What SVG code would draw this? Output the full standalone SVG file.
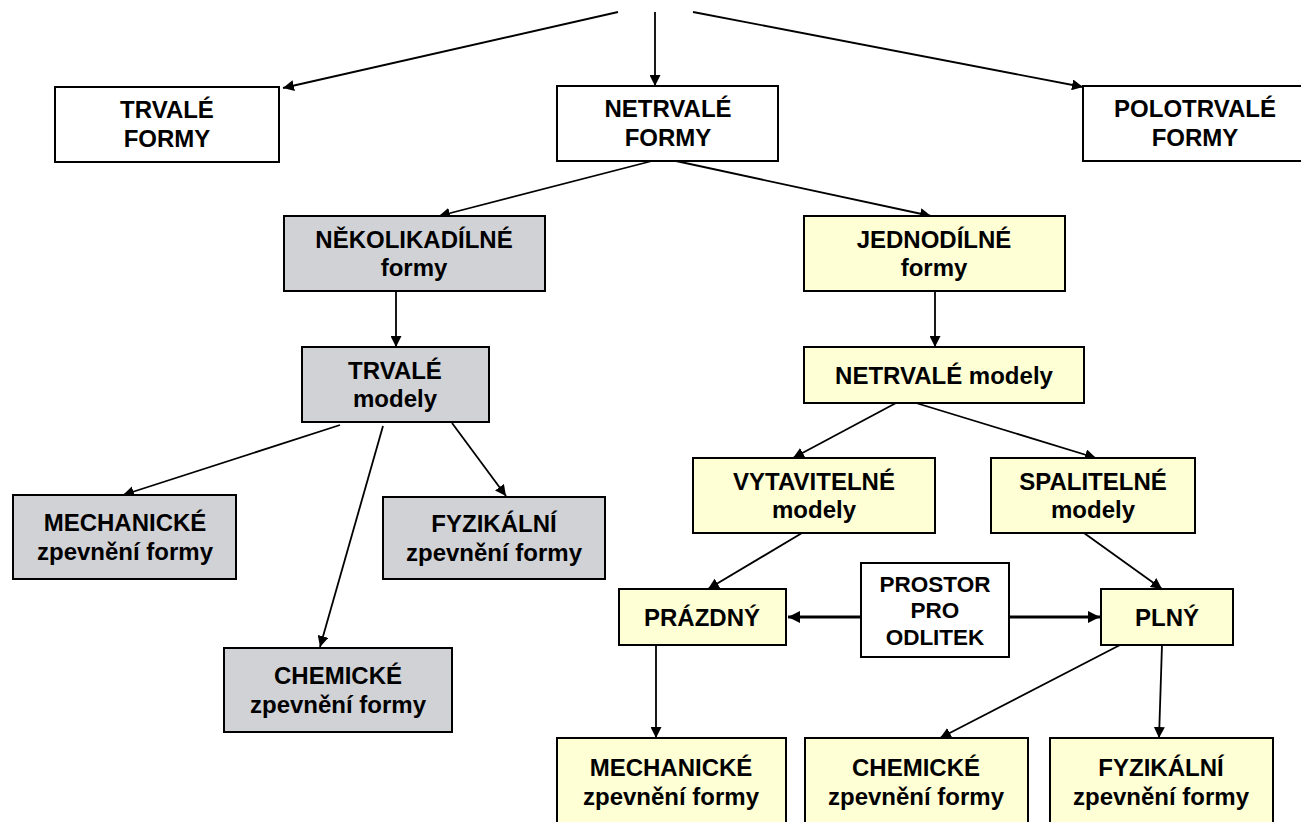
<svg xmlns="http://www.w3.org/2000/svg" width="1301" height="822" viewBox="0 0 1301 822">
<defs>
<style>
.box{stroke:#000;stroke-width:2}
.w{fill:#fff}
.g{fill:#D1D2D6}
.y{fill:#FFFFD5}
text{font-family:"Liberation Sans",Arial,sans-serif;font-weight:bold;font-size:24px;fill:#000;text-anchor:middle}
.sm{font-size:22.5px}
.c{stroke:#000;stroke-width:1.8;fill:none;marker-end:url(#ah)}
.t{stroke:#000;stroke-width:3;fill:none;marker-end:url(#ahb)}
</style>
<marker id="ah" viewBox="0 0 10 10" refX="10" refY="5" markerWidth="11" markerHeight="11" markerUnits="userSpaceOnUse" orient="auto">
<path d="M0,0 L10,5 L0,10 z" fill="#000"/>
</marker>
<marker id="ahb" viewBox="0 0 10 10" refX="10" refY="5" markerWidth="12" markerHeight="13" markerUnits="userSpaceOnUse" orient="auto">
<path d="M0,0 L10,5 L0,10 z" fill="#000"/>
</marker>
</defs>
<rect width="1301" height="822" fill="#fff"/>
<g id="connectors">
<line class="c" x1="618" y1="12" x2="283" y2="88"/>
<line class="c" x1="655" y1="12" x2="655" y2="86"/>
<line class="c" x1="693" y1="12" x2="1083" y2="87"/>
<line class="c" x1="652" y1="161" x2="439" y2="216"/>
<line class="c" x1="676" y1="161" x2="931" y2="216"/>
<line class="c" x1="396" y1="291" x2="396" y2="347"/>
<line class="c" x1="935" y1="291" x2="935" y2="347"/>
<line class="c" x1="340" y1="425" x2="123" y2="495"/>
<line class="c" x1="383" y1="426" x2="320" y2="647"/>
<line class="c" x1="452" y1="423" x2="506" y2="496"/>
<line class="c" x1="896" y1="403" x2="793" y2="458"/>
<line class="c" x1="916" y1="403" x2="1096" y2="458"/>
<line class="c" x1="802" y1="533" x2="708" y2="589"/>
<line class="c" x1="1084" y1="533" x2="1162" y2="589"/>
<line class="t" x1="860" y1="617" x2="788" y2="617"/>
<line class="t" x1="1009" y1="617" x2="1100" y2="617"/>
<line class="c" x1="656" y1="645" x2="656" y2="738"/>
<line class="c" x1="1120" y1="645" x2="940" y2="738"/>
<line class="c" x1="1162" y1="645" x2="1159" y2="738"/>
</g>
<g id="trvale_formy"><rect class="box w" x="55" y="87" width="224" height="75"/><text x="167" y="118">TRVALÉ</text><text x="167" y="147">FORMY</text></g>
<g id="netrvale_formy"><rect class="box w" x="557" y="86" width="221" height="75"/><text x="668" y="117">NETRVALÉ</text><text x="668" y="146">FORMY</text></g>
<g id="polotrvale_formy"><rect class="box w" x="1083" y="86" width="225" height="75"/><text x="1195" y="117">POLOTRVALÉ</text><text x="1195" y="146">FORMY</text></g>
<g id="nekolikadilne"><rect class="box g" x="284" y="216" width="261" height="75"/><text x="414" y="248">NĚKOLIKADÍLNÉ</text><text x="414" y="276">formy</text></g>
<g id="jednodilne"><rect class="box y" x="804" y="216" width="261" height="75"/><text x="934" y="248">JEDNODÍLNÉ</text><text x="934" y="276">formy</text></g>
<g id="trvale_modely"><rect class="box g" x="302" y="347" width="187" height="75"/><text x="395" y="379">TRVALÉ</text><text x="395" y="407">modely</text></g>
<g id="netrvale_modely"><rect class="box y" x="804" y="347" width="280" height="56"/><text x="944" y="384">NETRVALÉ modely</text></g>
<g id="mech_grey"><rect class="box g" x="13" y="495" width="223" height="84"/><text x="125" y="531">MECHANICKÉ</text><text x="125" y="560">zpevnění formy</text></g>
<g id="fyz_grey"><rect class="box g" x="383" y="497" width="222" height="82"/><text x="494" y="532">FYZIKÁLNÍ</text><text x="494" y="561">zpevnění formy</text></g>
<g id="chem_grey"><rect class="box g" x="224" y="648" width="228" height="84"/><text x="338" y="684">CHEMICKÉ</text><text x="338" y="713">zpevnění formy</text></g>
<g id="vytavitelne"><rect class="box y" x="693" y="458" width="242" height="75"/><text x="814" y="490">VYTAVITELNÉ</text><text x="814" y="518">modely</text></g>
<g id="spalitelne"><rect class="box y" x="991" y="458" width="204" height="75"/><text x="1093" y="490">SPALITELNÉ</text><text x="1093" y="518">modely</text></g>
<g id="prazdny"><rect class="box y" x="619" y="589" width="167" height="56"/><text x="702" y="626">PRÁZDNÝ</text></g>
<g id="prostor"><rect class="box w" x="861" y="563" width="148" height="94"/><text class="sm" x="935" y="592">PROSTOR</text><text class="sm" x="935" y="618">PRO</text><text class="sm" x="935" y="645">ODLITEK</text></g>
<g id="plny"><rect class="box y" x="1101" y="589" width="132" height="56"/><text x="1167" y="626">PLNÝ</text></g>
<g id="mech_y"><rect class="box y" x="557" y="738" width="229" height="92"/><text x="671" y="776">MECHANICKÉ</text><text x="671" y="805">zpevnění formy</text></g>
<g id="chem_y"><rect class="box y" x="805" y="738" width="223" height="92"/><text x="916" y="776">CHEMICKÉ</text><text x="916" y="805">zpevnění formy</text></g>
<g id="fyz_y"><rect class="box y" x="1050" y="738" width="223" height="92"/><text x="1161" y="776">FYZIKÁLNÍ</text><text x="1161" y="805">zpevnění formy</text></g>
</svg>
